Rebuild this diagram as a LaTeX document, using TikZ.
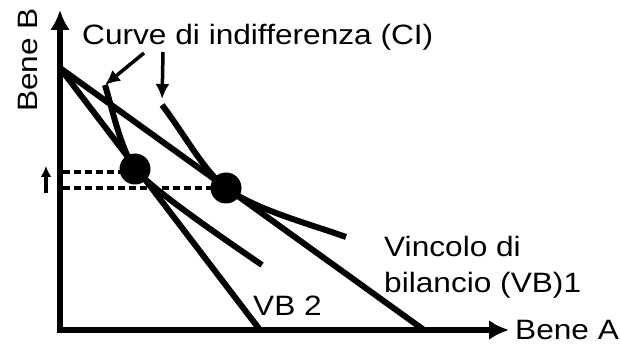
\documentclass[tikz,border=0pt]{standalone}
\usepackage{fontspec}
\setmainfont{Liberation Sans}[FakeStretch=1.13]
\usetikzlibrary{arrows.meta}
\tikzset{>=latex}
\tikzset{
  axis/.style = {line width=6pt, line join=miter,
    {Latex[length=20pt,width=20pt]}-{Latex[length=20pt,width=20pt]}},
  budget/.style = {line width=6pt},
  icurve/.style = {line width=6pt},
  pointer/.style = {line width=3.5pt, -{Latex[length=15pt,width=14pt]}},
  guide/.style = {line width=3.5pt, dash pattern=on 7pt off 4pt},
  optimum/.style = {circle, fill, inner sep=0pt, minimum size=31pt},
  lbl/.style = {font=\fontsize{28}{34}\selectfont, inner sep=0pt, anchor=base west}
}

\begin{document}
\begin{tikzpicture}[x=1pt,y=-1pt]
  \useasboundingbox (0,0) rectangle (620,344);
  % axes
  \coordinate (ytop) at (60,10);
  \coordinate (O) at (60,330);
  \coordinate (xend) at (509,330);
  \draw[axis] (ytop) -- (O) -- (xend);
  \node[lbl,rotate=90] (beneB) at (37,112) {Bene B};
  \node[lbl] (beneA) at (515,339) {Bene A};
  % budget lines
  \coordinate (A) at (60,68);
  \coordinate (b1) at (424,330);
  \coordinate (b2) at (260,330);
  \draw[budget] (A) -- (b1);
  \draw[budget] (A) -- (b2);
  % optima
  \node[optimum] (e1) at (135,169) {};
  \node[optimum] (e2) at (226,188) {};
  % indifference curves
  \coordinate (c1s) at (105,85);
  \coordinate (c1e) at (262,265);
  \coordinate (c2s) at (162,105);
  \coordinate (c2e) at (346,237);
  \draw[icurve] (c1s) .. controls (112,108) and (121,150) .. (e1.center)
                      .. controls (152,190) and (230,243) .. (c1e);
  \draw[icurve] (c2s) .. controls (185,135) and (203,170) .. (e2.center)
                      .. controls (256,210) and (310,224) .. (c2e);
  % guides
  \draw[guide] (63,172) -- (e1.center |- 0,172);
  \draw[guide] (63,188) -- (e2.center);
  \draw[line width=3.5pt,-{Latex[length=11pt,width=11pt]}] (46,193) -- (46,166);
  % labels
  \node[lbl] (ci) at (82,45) {Curve di indifferenza (CI)};
  \draw[pointer] (144,53) -- (c1s);
  \draw[pointer,shorten >=6pt] (163,52) -- (c2s |- 0,105);
  \node[lbl] (vb1) at (384,257) {Vincolo di};
  \node[lbl] (vb1b) at ([yshift=-35pt]vb1.base west) {bilancio (VB)1};
  \node[lbl] (vb2) at (253,315) {VB 2};
\end{tikzpicture}
\end{document}
